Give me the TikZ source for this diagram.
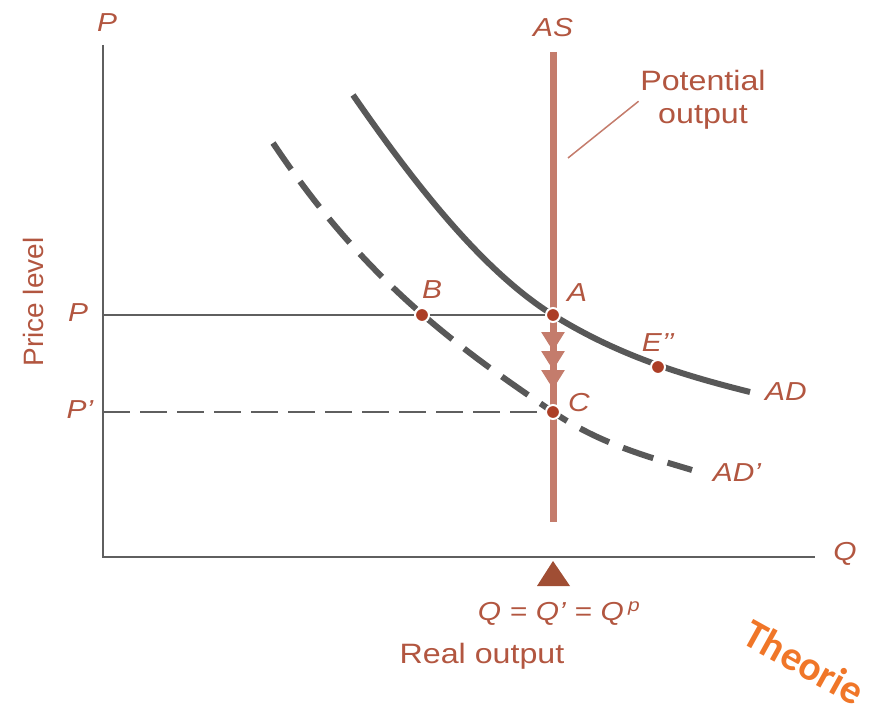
\documentclass[tikz,border=0pt]{standalone}
\usepackage{fontspec}
\setmainfont[FakeStretch=1.15]{Liberation Sans}
\newfontfamily\plainsans{Liberation Sans}
\newfontfamily\stampfont{Carlito}
\usetikzlibrary{arrows.meta}
\definecolor{axisgray}{RGB}{95,95,95}
\definecolor{curvegray}{RGB}{88,88,88}
\definecolor{asrose}{RGB}{196,124,108}
\definecolor{labelred}{RGB}{178,86,64}
\definecolor{dotred}{RGB}{172,62,38}
\definecolor{markbrown}{RGB}{160,78,52}
\definecolor{stamporange}{RGB}{240,118,40}
\pgfdeclarelayer{bg}
\pgfsetlayers{bg,main}

\begin{document}
\begin{tikzpicture}[
    x=1pt,y=-1pt,
    axis/.style={draw=axisgray,line width=2.6pt},
    guide/.style={draw=axisgray,line width=1.6pt},
    demand/.style={draw=curvegray,line width=6pt},
    shifted/.style={demand,dash pattern=on 32pt off 15pt},
    supply/.style={draw=asrose,line width=7pt},
    dot/.style={circle,fill=dotred,draw=white,line width=2pt,inner sep=0pt,minimum size=14pt},
    lbl/.style={text=labelred,font=\fontsize{26}{30}\selectfont\itshape,inner sep=0pt},
    word/.style={text=labelred,font=\fontsize{28}{33}\selectfont,align=center,inner sep=0pt},
    fall/.style={draw=asrose,line width=3pt,shorten >=15pt,
      -{Triangle[width=23pt,length=19pt] Triangle[width=23pt,length=19pt] Triangle[width=23pt,length=19pt]}}
  ]
  \useasboundingbox (0,0) rectangle (884,717);

  \coordinate (origin) at (103,557);
  \coordinate (ytop) at (103,45);
  \coordinate (xend) at (815,557);
  \coordinate (pP) at (103,315);
  \coordinate (pPp) at (103,412);
  \coordinate (astop) at (553,52);
  \coordinate (asbot) at (553,522);
  \coordinate (lead) at (568,158);

  \node[dot] (A) at (553,315) {};
  \node[dot] (B) at (422,315) {};
  \node[dot] (C) at (553,412) {};
  \node[dot] (E) at (658,367) {};

  \begin{pgfonlayer}{bg}
    \draw[axis] (ytop) -- (origin) -- (xend);
    \draw[guide] (pP) -- (A);
    \draw[guide,dash pattern=on 27pt off 10pt] (pPp) -- (C);
    \draw[demand] (353,95) .. controls (420,192) and (486,273) .. (A.center)
      .. controls (619,356) and (684,375.5) .. (750,392);
    \draw[shifted] (273,143) .. controls (366,282.5) and (460,348.8) .. (C.center)
      .. controls (599,443.3) and (646,456.2) .. (692,470);
    \draw[supply] (astop) -- (asbot);
    \draw[fall] (A) -- (C);
  \end{pgfonlayer}

  \fill[markbrown] (537,586) -- (553,561) -- (570,586) -- cycle;

  \node[lbl] (ptop) at (107,23) {P};
  \node[lbl] (qend) at (845,554) {Q};
  \node[lbl] (aslabel) at (553,28) {AS};
  \node[lbl] (plabel) at (78,313) {P};
  \node[lbl] (pplabel) at (80,410) {P’};
  \node[lbl] (alabel) at (577,293) {A};
  \node[lbl] (blabel) at (432,290) {B};
  \node[lbl] (clabel) at (579,403) {C};
  \node[lbl] (elabel) at (658,343) {E’’};
  \node[lbl] (adlabel) at (786,392) {AD};
  \node[lbl] (adplabel) at (737,473) {AD’};
  \node[lbl] (qlabel) at (559,614) {Q\,\,=\,\,Q’\,\,=\,\,Q\,\textsuperscript{p}};

  \node[word] (potential) at (703,100) {Potential\\output};
  \draw[draw=asrose,line width=1.5pt,shorten >=2pt] (lead) -- (potential.west);
  \node[word] (realout) at (482,656) {Real output};
  \node[word,rotate=90,font=\plainsans\fontsize{28}{32}\selectfont] (pricelevel) at (33,302) {Price level};

  \node[rotate=-29,text=stamporange,font=\stampfont\bfseries\fontsize{41}{46}\selectfont] (stamp) at (804,662) {Theorie};
\end{tikzpicture}
\end{document}
